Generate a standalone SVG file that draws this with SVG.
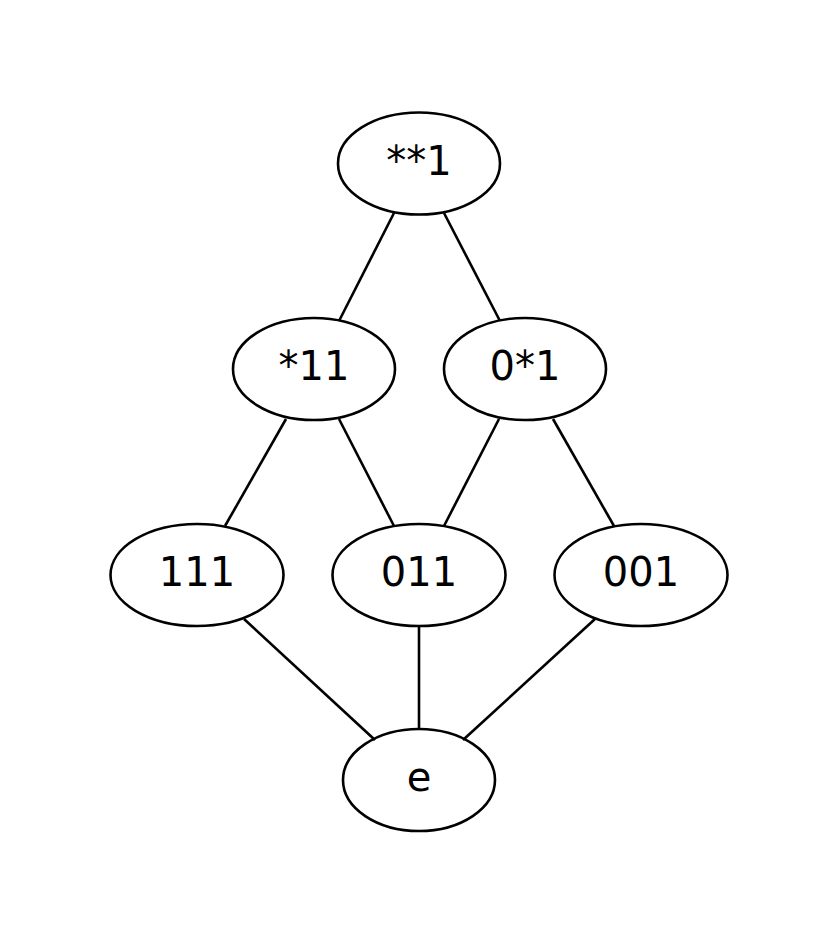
<svg xmlns="http://www.w3.org/2000/svg" width="839" height="945" viewBox="0 0 839 945">
<style>
.n ellipse{fill:none;stroke:#000;stroke-width:2.6}
.n text{font-family:"DejaVu Sans",sans-serif;font-size:40px;text-anchor:middle;fill:#000}
#edges line{stroke:#000;stroke-width:2.6}
</style>
<rect width="839" height="945" fill="#fff"/>
<g id="edges">
<line x1="394" y1="213" x2="339" y2="321"/>
<line x1="444" y1="213" x2="500" y2="321"/>
<line x1="286" y1="419" x2="225" y2="526"/>
<line x1="339" y1="419" x2="394" y2="526"/>
<line x1="499" y1="419" x2="444" y2="526"/>
<line x1="553" y1="419" x2="614" y2="526"/>
<line x1="244" y1="619" x2="375" y2="740"/>
<line x1="419" y1="626" x2="419" y2="730"/>
<line x1="595" y1="619" x2="463" y2="740"/>
</g>
<g id="n_star_star_1" class="n"><ellipse cx="419" cy="163.5" rx="81" ry="51"/><text x="419" y="175">**1</text></g>
<g id="n_star_11" class="n"><ellipse cx="314" cy="369" rx="81" ry="51"/><text x="314" y="380">*11</text></g>
<g id="n_0_star_1" class="n"><ellipse cx="525" cy="369" rx="81" ry="51"/><text x="525" y="380">0*1</text></g>
<g id="n_111" class="n"><ellipse cx="197" cy="575" rx="86.5" ry="51"/><text x="197" y="586">111</text></g>
<g id="n_011" class="n"><ellipse cx="419" cy="575" rx="86.5" ry="51"/><text x="419" y="586">011</text></g>
<g id="n_001" class="n"><ellipse cx="641" cy="575" rx="86.5" ry="51"/><text x="641" y="586">001</text></g>
<g id="n_e" class="n"><ellipse cx="419" cy="780" rx="76" ry="51"/><text x="419" y="791">e</text></g>
</svg>
